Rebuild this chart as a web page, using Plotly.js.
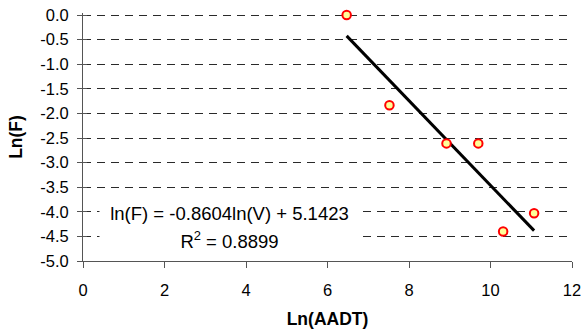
<!DOCTYPE html>
<html>
<head>
<meta charset="utf-8">
<script src="https://cdn.plot.ly/plotly-3.0.1.min.js"></script>
<style>
  html, body { margin: 0; padding: 0; background: #fff; }
  #chart { width: 584px; height: 333px; }
</style>
</head>
<body>
<div id="chart"></div>
<script>
// Data
const lnAADT = [6.47, 7.52, 8.92, 9.70, 10.31, 11.07];
const lnF = [0.0, -1.835, -2.61, -2.61, -4.40, -4.03];
// Trend line coefficients (from the equation shown on the chart)
const slope = -0.8604;
const intercept = 5.1423;
const rSquared = 0.8899;
const xTickVals = [0, 2, 4, 6, 8, 10, 12];
const yTickVals = [0.0, -0.5, -1.0, -1.5, -2.0, -2.5, -3.0, -3.5, -4.0, -4.5, -5.0];

const trendX = [Math.min(...lnAADT), Math.max(...lnAADT)];
const trendY = trendX.map(x => slope * x + intercept);

const FONT = '"Liberation Sans", Arial, sans-serif';
const Y_RANGE = [-5, 0.0406];

const traces = [
  {
    x: trendX, y: trendY, type: 'scatter', mode: 'lines',
    line: { color: '#000000', width: 3 },
    hoverinfo: 'skip', showlegend: false
  },
  {
    x: lnAADT, y: lnF, type: 'scatter', mode: 'markers',
    marker: { size: 8.5, color: '#FFFF99', line: { color: '#FF0000', width: 2 } },
    cliponaxis: false, showlegend: false
  },
  {
    x: [0], y: [-5], type: 'scatter', mode: 'markers', yaxis: 'y2',
    marker: { size: 1, opacity: 0 }, showlegend: false, hoverinfo: 'skip'
  }
];

const layout = {
  width: 584, height: 333,
  margin: { l: 83, r: 12, t: 13, b: 72 },
  paper_bgcolor: '#ffffff', plot_bgcolor: '#ffffff',
  font: { family: FONT, size: 16, color: '#000000' },
  showlegend: false,
  xaxis: {
    range: [0, 12], tickvals: xTickVals, ticktext: xTickVals.map(String),
    showline: true, linecolor: '#555555', linewidth: 1,
    ticks: 'outside', ticklen: 6, tickcolor: '#555555', tickwidth: 1,
    ticklabelstandoff: 8,
    showgrid: false, zeroline: false,
    tickfont: { family: FONT, size: 16.5, color: '#000' },
    title: { text: '<b>Ln(AADT)</b>', font: { family: FONT, size: 17.5, color: '#000' }, standoff: 14 }
  },
  yaxis: {
    range: Y_RANGE, tickvals: yTickVals, ticktext: yTickVals.map(v => v.toFixed(1)),
    showline: true, linecolor: '#555555', linewidth: 1,
    ticks: 'outside', ticklen: 5, tickcolor: '#555555', tickwidth: 1,
    ticklabelstandoff: 5,
    showgrid: true, gridcolor: '#2a2a2a', gridwidth: 1, griddash: '8px,6px',
    zeroline: false,
    tickfont: { family: FONT, size: 16.5, color: '#000' },
    title: { text: '<b>Ln(F)</b>', font: { family: FONT, size: 17.5, color: '#000' }, standoff: 13 }
  },
  yaxis2: {
    overlaying: 'y', anchor: 'x', side: 'left',
    range: Y_RANGE, tickvals: yTickVals, showticklabels: false,
    ticks: 'inside', ticklen: 4, tickcolor: '#555555', tickwidth: 1,
    showgrid: false, zeroline: false, showline: false
  },
  annotations: [
    {
      x: 3.595, y: -4.02, xref: 'x', yref: 'y',
      text: 'ln(F) = ' + slope.toFixed(4) + 'ln(V) + ' + intercept.toFixed(4),
      showarrow: false, bgcolor: '#ffffff', width: 257, height: 24,
      xanchor: 'center', yanchor: 'middle', align: 'center',
      font: { family: FONT, size: 18.5, color: '#000' }
    },
    {
      x: 3.595, y: -4.57, xref: 'x', yref: 'y',
      text: 'R<sup>2</sup> = ' + rSquared.toFixed(4),
      showarrow: false, bgcolor: '#ffffff', width: 257, height: 26,
      xanchor: 'center', yanchor: 'middle', align: 'center',
      font: { family: FONT, size: 18.5, color: '#000' }
    }
  ]
};

Plotly.newPlot('chart', traces, layout, { displayModeBar: false, staticPlot: true });
</script>
</body>
</html>
